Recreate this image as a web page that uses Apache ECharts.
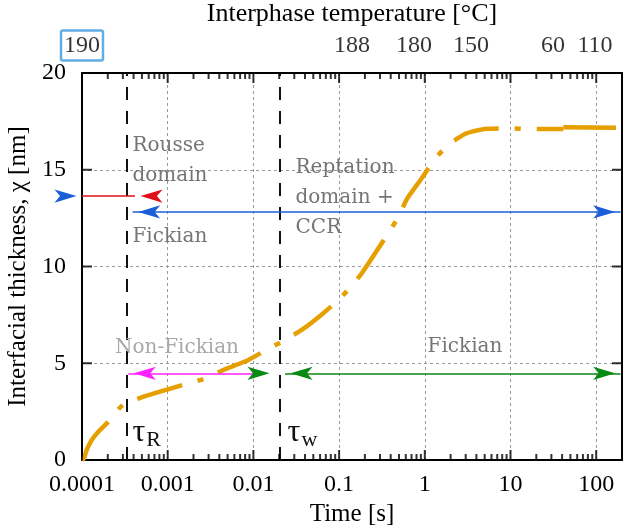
<!DOCTYPE html>
<html>
<head>
<meta charset="utf-8">
<script src="https://cdn.jsdelivr.net/npm/echarts@6/dist/echarts.min.js"></script>
<style>
  html, body { margin: 0; padding: 0; background: #fff; }
  #chart { width: 624px; height: 532px; }
</style>
</head>
<body>
<div id="chart"></div>
<script>
// interfacial thickness against time (log axis)
const timeS = [1e-4, 1.055e-4, 1.135e-4, 1.3e-4, 1.55e-4, 2.03e-4, 2.72e-4, 3.09e-4, 3.4e-4,
  4.62e-4, 8.13e-4, 1.635e-3, 2.67e-3, 4.45e-3, 8.73e-3, 1.43e-2, 2.14e-2, 3.66e-2, 5.98e-2,
  9.8e-2, 0.134, 0.184, 0.375, 0.49, 0.625, 0.92, 1.315, 1.75, 2.06, 2.94, 3.95, 5.27, 10.3,
  16.2, 41.4];
const chiNm = [0, 0.09, 0.52, 1.03, 1.46, 1.98, 2.67, 2.89, 2.96,
  3.19, 3.53, 3.93, 4.2, 4.65, 5.17, 5.7, 6.11, 6.72, 7.44,
  8.27, 8.9, 9.65, 11.72, 12.55, 13.52, 14.56, 15.56, 16.16, 16.42, 16.85, 17.02, 17.12, 17.14,
  17.1, 17.1];
// last plateau piece (small step at ~40 s)
const tailTimeS = [41.4, 170];
const tailChiNm = [17.19, 17.17];

const timeTicks = ['0.0001', '0.001', '0.01', '0.1', '1', '10', '100'];

// top axis: interphase temperature at given times
const tempLabels = ['190', '188', '180', '150', '60', '110'];
const tempTimes = [1e-4, 0.1416, 0.748, 3.46, 31.3, 97];

// characteristic times
const tauR = 3.33e-4;
const tauW = 0.0201;

// regime arrows: [from, to, chi]
const rousseArrow = [1e-4, 4.15e-4, 13.64];
const ccrArrow = [3.9e-4, 193, 12.82];
const nonFickArrow = [3.47e-4, 0.0118, 4.48];
const nonFickTip = 0.01786;
const fickArrow = [0.0234, 193, 4.48];

const notes = [
  { text: 'Rousse\ndomain', t: 3.83e-4, chi: 15.45, pos: 'right', color: '#757575' },
  { text: 'Fickian', t: 3.83e-4, chi: 11.52, pos: 'right', color: '#757575' },
  { text: 'Reptation\ndomain +\nCCR', t: 0.0306, chi: 13.54, pos: 'right', color: '#757575' },
  { text: 'Non-Fickian', t: 1.284e-3, chi: 5.79, pos: 'inside', color: '#a8a8a8' },
  { text: 'Fickian', t: 2.94, chi: 5.84, pos: 'inside', color: '#757575' }
];
const tauNotes = [
  { sub: 'R', t: 3.83e-4, chi: 1.4 },
  { sub: 'w', t: 0.0247, chi: 1.4 }
];

const SERIF = 'Liberation Serif';
const NOTE_FONT = 'DejaVu Serif';
const ORANGE = '#e69f00';
const TICK = '#000';

// log minor tick positions (2..9 per decade)
const minorTicks = [];
for (let d = -4; d <= 2; d++) {
  for (let k = 2; k <= 9; k++) {
    const v = k * Math.pow(10, d);
    if (v < 200) minorTicks.push(v);
  }
}
// decade tick positions for the frame marks
const majorTicks = [1e-4, 1e-3, 1e-2, 1e-1, 1, 10, 100];
const chiTicks = [5, 10, 15];

const chart = echarts.init(document.getElementById('chart'));

function lineSeg(a, b, y, color) {
  return [
    { coord: [a, y], lineStyle: { color: color, width: 1.6, type: 'solid' } },
    { coord: [b, y] }
  ];
}
// arrowhead whose tip sits on (t, y); dir 1 = pointing right
function head(t, y, dir, color) {
  return {
    coord: [t, y],
    symbol: 'arrow',
    symbolSize: [10, 22],
    symbolRotate: dir > 0 ? -90 : 90,
    symbolOffset: [dir > 0 ? -5.5 : 5.5, 0],
    itemStyle: { color: color },
    label: { show: false }
  };
}

const BLUE = '#1a5fd8';
const RED = '#e0101a';
const MAGENTA = '#ff22ff';
const GREEN = '#088a12';

const arrowLines = [
  lineSeg(rousseArrow[0], rousseArrow[1], rousseArrow[2], RED),
  lineSeg(ccrArrow[0], ccrArrow[1], ccrArrow[2], BLUE),
  lineSeg(nonFickArrow[0], nonFickArrow[1], nonFickArrow[2], MAGENTA),
  lineSeg(fickArrow[0], fickArrow[1], fickArrow[2], GREEN)
];
const arrowHeads = [
  head(rousseArrow[0], rousseArrow[2], 1, BLUE),
  head(rousseArrow[1], rousseArrow[2], -1, RED),
  head(ccrArrow[0], ccrArrow[2], -1, BLUE),
  head(ccrArrow[1], ccrArrow[2], 1, BLUE),
  head(nonFickArrow[0], nonFickArrow[2], -1, MAGENTA),
  head(nonFickTip, nonFickArrow[2], 1, GREEN),
  head(fickArrow[0], fickArrow[2], -1, GREEN),
  head(fickArrow[1], fickArrow[2], 1, GREEN)
];
const noteMarks = notes.map(n => ({
  coord: [n.t, n.chi],
  symbol: 'circle', symbolSize: 1,
  itemStyle: { color: 'transparent' },
  label: {
    show: true, formatter: n.text, position: n.pos, distance: 0,
    align: n.pos === 'right' ? 'left' : 'center', verticalAlign: 'middle',
    color: n.color, fontFamily: NOTE_FONT, fontSize: 20, lineHeight: 30
  }
}));
const tauMarks = tauNotes.map(n => ({
  coord: [n.t, n.chi],
  symbol: 'circle', symbolSize: 1,
  itemStyle: { color: 'transparent' },
  label: {
    show: true, formatter: '{t|τ}{s|' + n.sub + '}', position: 'right', distance: 0,
    rich: {
      t: { fontFamily: SERIF, fontSize: 32, color: '#111', lineHeight: 34 },
      s: { fontFamily: SERIF, fontSize: 22, color: '#111', lineHeight: 34, padding: [14, 0, 0, 1] }
    }
  }
}));

const tickFmt = v => timeTicks[Math.round(Math.log10(v)) + 4] || '';

const baseX = {
  type: 'log', logBase: 10, min: 1e-4, max: 200,
  axisLine: { show: true, onZero: false, lineStyle: { color: '#000', width: 2 } },
  axisTick: { show: false },
  minorTick: { show: false }
};

// frame tick marks drawn as thin bars on the frame (x ticks: vertical bars, y ticks: horizontal)
const xTickMarks = (vals, yv, len, off) => ({
  type: 'scatter', xAxisIndex: 0, yAxisIndex: 0, silent: true, clip: false, z: 6,
  symbol: 'rect', symbolSize: [2, len], symbolOffset: [0, off],
  itemStyle: { color: TICK },
  data: vals.map(v => [v, yv])
});
const yTickMarks = (xv, off) => ({
  type: 'scatter', xAxisIndex: 0, yAxisIndex: 0, silent: true, clip: false, z: 6,
  symbol: 'rect', symbolSize: [10, 2], symbolOffset: [off, 0],
  itemStyle: { color: TICK },
  data: chiTicks.map(c => [xv, c])
});

chart.setOption({
  animation: false,
  backgroundColor: '#fff',
  grid: { left: 82, right: 2, top: 73, bottom: 72, outerBoundsMode: 'none' },
  xAxis: [
    Object.assign({}, baseX, {
      position: 'bottom',
      name: 'Time [s]', nameLocation: 'middle', nameGap: 37,
      nameTextStyle: { fontFamily: SERIF, fontSize: 25, color: '#000' },
      axisLabel: { margin: 13, fontFamily: SERIF, fontSize: 24, color: '#000', formatter: tickFmt, showMaxLabel: false },
      splitLine: { show: true, lineStyle: { color: '#9a9a9a', width: 1, type: [3, 3] } }
    }),
    Object.assign({}, baseX, {
      position: 'top',
      name: 'Interphase temperature [°C]', nameLocation: 'middle', nameGap: 46,
      nameTextStyle: { fontFamily: SERIF, fontSize: 26, color: '#000' },
      axisLabel: { show: false },
      splitLine: { show: false }
    })
  ],
  yAxis: [
    {
      type: 'value', min: 0, max: 20, interval: 5, position: 'left',
      name: 'Interfacial thickness, χ [nm]', nameLocation: 'middle', nameGap: 50,
      nameTextStyle: { fontFamily: SERIF, fontSize: 25, color: '#000' },
      axisLine: { show: true, lineStyle: { color: '#000', width: 2 } },
      axisTick: { show: false },
      axisLabel: { margin: 16, fontFamily: SERIF, fontSize: 24, color: '#000' },
      splitLine: { show: true, lineStyle: { color: '#9a9a9a', width: 1, type: [3, 3] } }
    },
    {
      type: 'value', min: 0, max: 20, interval: 5, position: 'right',
      axisLine: { show: true, lineStyle: { color: '#000', width: 2 } },
      axisTick: { show: false },
      axisLabel: { show: false },
      splitLine: { show: false }
    }
  ],
  series: [
    {
      type: 'line', name: 'chi', xAxisIndex: 0, yAxisIndex: 0,
      data: timeS.map((t, i) => [t, chiNm[i]]),
      showSymbol: false, smooth: 0.2, silent: true, z: 4,
      lineStyle: { color: ORANGE, width: 4.5, type: [47, 16, 6, 16], cap: 'butt' }
    },
    {
      type: 'line', name: 'chiTail', xAxisIndex: 0, yAxisIndex: 0,
      data: tailTimeS.map((t, i) => [t, tailChiNm[i]]),
      showSymbol: false, silent: true, z: 4,
      lineStyle: { color: ORANGE, width: 4.5, type: 'solid', cap: 'butt' }
    },
    xTickMarks(minorTicks, 0, 6, -3),
    xTickMarks(minorTicks, 20, 6, 3),
    xTickMarks(majorTicks, 0, 10, -5),
    xTickMarks(majorTicks, 20, 10, 5),
    yTickMarks(1e-4, 5),
    yTickMarks(200, -5),
    {
      type: 'scatter', name: 'temperature', xAxisIndex: 1, yAxisIndex: 0,
      symbolSize: 1, silent: true, clip: false,
      itemStyle: { color: 'transparent' },
      data: tempTimes.map((t, i) => ({
        value: [t, 20],
        label: i === 0 ? { borderColor: '#3a9ae0', borderWidth: 2.5, borderRadius: 2 } : {}
      })),
      label: {
        show: true, position: 'top', distance: 12,
        formatter: p => tempLabels[p.dataIndex],
        fontFamily: SERIF, fontSize: 24, color: '#000', lineHeight: 24, padding: [3, 3, 3, 3]
      }
    },
    {
      type: 'line', name: 'annotations', xAxisIndex: 0, yAxisIndex: 0,
      data: [], silent: true, z: 3,
      markLine: {
        silent: true, symbol: 'none', animation: false,
        label: { show: false },
        data: [
          [{ coord: [tauR, 0], lineStyle: { color: '#111', width: 2, type: [13, 11] } }, { coord: [tauR, 20] }],
          [{ coord: [tauW, 0], lineStyle: { color: '#111', width: 2, type: [13, 11] } }, { coord: [tauW, 20] }]
        ].concat(arrowLines)
      },
      markPoint: {
        silent: true, animation: false,
        data: arrowHeads.concat(noteMarks, tauMarks)
      }
    }
  ]
});
</script>
</body>
</html>
